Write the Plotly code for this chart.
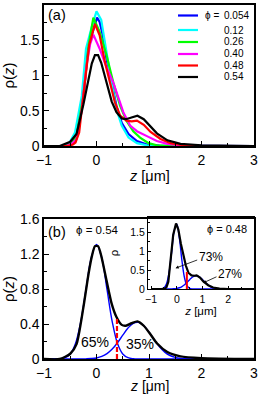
import plotly.graph_objects as go

# ---------------- data ----------------
phi_labels = ["0.054", "0.12", "0.26", "0.40", "0.48", "0.54"]
colors = ["#0000ff", "#00ffff", "#00ff00", "#ff00ff", "#ff0000", "#000000"]

blue_z = [-1, -0.6, -0.5, -0.38, -0.25, -0.17, -0.08, 0.01, 0.06, 0.12, 0.19, 0.29, 0.38, 0.48, 0.61, 0.77, 0.96, 1.2, 3]
blue_r = [0, 0.0, 0.03, 0.19, 0.67, 1.33, 1.6, 1.82, 1.76, 1.57, 1.24, 0.86, 0.57, 0.33, 0.17, 0.07, 0.02, 0.005, 0]

cyan_z = [-1, -0.62, -0.52, -0.41, -0.28, -0.2, -0.09, 0.0, 0.09, 0.13, 0.19, 0.29, 0.38, 0.48, 0.61, 0.77, 0.96, 1.2, 3]
cyan_r = [0, 0, 0.04, 0.19, 0.71, 1.38, 1.69, 1.91, 1.79, 1.6, 1.29, 0.88, 0.52, 0.29, 0.12, 0.04, 0.01, 0, 0]

green_z = [-1, -0.6, -0.48, -0.38, -0.25, -0.15, -0.06, 0.06, 0.19, 0.32, 0.45, 0.57, 0.7, 0.83, 0.99, 1.15, 1.4, 3]
green_r = [0, 0, 0.03, 0.14, 0.71, 1.43, 1.82, 1.62, 1.29, 0.9, 0.57, 0.36, 0.21, 0.12, 0.04, 0.01, 0, 0]

magenta_z = [-1, -0.58, -0.47, -0.38, -0.28, -0.19, -0.12, -0.06, 0.06, 0.19, 0.32, 0.41, 0.51, 0.64, 0.77, 0.96, 1.15, 1.35, 1.6, 2.0, 3]
magenta_r = [0, 0, 0.03, 0.10, 0.52, 1.14, 1.45, 1.58, 1.38, 1.12, 0.9, 0.71, 0.48, 0.29, 0.21, 0.14, 0.07, 0.03, 0.01, 0, 0]

red_z = [-1, -0.55, -0.45, -0.4, -0.33, -0.22, -0.14, -0.03, 0.06, 0.16, 0.25, 0.35, 0.45, 0.57, 0.67, 0.77, 0.9, 1.03, 1.22, 1.41, 1.66, 2.0, 3]
red_r = [0, 0, 0.02, 0.05, 0.19, 0.86, 1.43, 1.73, 1.57, 1.19, 0.9, 0.62, 0.43, 0.36, 0.35, 0.36, 0.30, 0.20, 0.10, 0.04, 0.01, 0, 0]

black_z = [-1, -0.7, -0.5, -0.38, -0.25, -0.15, -0.09, -0.03, 0.03, 0.09, 0.19, 0.29, 0.38, 0.48, 0.56, 0.67, 0.78, 0.9, 1.03, 1.15, 1.35, 1.6, 2.0, 3]
black_r = [0, 0.0, 0.06, 0.17, 0.59, 0.98, 1.17, 1.29, 1.29, 1.18, 0.9, 0.63, 0.48, 0.39, 0.38, 0.41, 0.43, 0.38, 0.28, 0.18, 0.08, 0.03, 0.01, 0]

# panel (b): two-peak decomposition of phi = 0.54
fit_z = [-1, -0.8, -0.7, -0.6, -0.5, -0.4, -0.3, -0.2, -0.1, 0.0, 0.1, 0.2, 0.3, 0.4, 0.5, 0.6, 0.7, 0.8, 0.9,
         1.0, 1.1, 1.2, 1.3, 1.4, 1.5, 1.6, 1.7, 1.8, 3]
fit54_left = [0, 0.0, 0.003, 0.015, 0.058, 0.177, 0.425, 0.795, 1.156, 1.31, 1.156, 0.795, 0.425, 0.177, 0.058, 0.015,
              0.003, 0.0, 0, 0, 0, 0, 0, 0, 0, 0, 0, 0, 0]
fit54_right = [0, 0, 0, 0, 0, 0, 0, 0.002, 0.005, 0.012, 0.029, 0.061, 0.113, 0.186, 0.272, 0.354, 0.408, 0.418, 0.380,
               0.307, 0.220, 0.140, 0.079, 0.040, 0.018, 0.007, 0.002, 0, 0]

# inset: two-peak decomposition of phi = 0.48
fit48_left = [0, 0, 0, 0.005, 0.032, 0.141, 0.443, 0.982, 1.539, 1.708, 1.341, 0.745, 0.292, 0.081, 0.016, 0.002,
              0, 0, 0, 0, 0, 0, 0, 0, 0, 0, 0, 0, 0]
fit48_right = [0, 0, 0, 0, 0, 0, 0, 0, 0.006, 0.015, 0.033, 0.065, 0.114, 0.177, 0.247, 0.309, 0.345, 0.345, 0.309,
               0.247, 0.177, 0.114, 0.065, 0.033, 0.015, 0.006, 0.002, 0, 0]

split_z = 0.39
split_top_54 = 0.46
split_top_48 = 0.45
share_54 = ["65%", "35%"]
share_48 = ["73%", "27%"]

FONT = "Liberation Sans"

fig = go.Figure()

# ---------------- panel (a) ----------------
series = [(blue_z, blue_r), (cyan_z, cyan_r), (green_z, green_r), (magenta_z, magenta_r), (red_z, red_r), (black_z, black_r)]
for (zz, rr), c, lab in zip(series, colors, phi_labels):
    fig.add_trace(go.Scatter(x=zz, y=rr, mode="lines", line=dict(color=c, width=2.2),
                             name="ϕ = " + lab, showlegend=False, xaxis="x", yaxis="y"))

# ---------------- panel (b) ----------------
fig.add_trace(go.Scatter(x=fit_z, y=fit54_left, mode="lines", line=dict(color="#0000ff", width=1.4, shape="spline"),
                         showlegend=False, xaxis="x2", yaxis="y2"))
fig.add_trace(go.Scatter(x=fit_z, y=fit54_right, mode="lines", line=dict(color="#0000ff", width=1.4, shape="spline"),
                         showlegend=False, xaxis="x2", yaxis="y2"))
fig.add_trace(go.Scatter(x=black_z, y=black_r, mode="lines", line=dict(color="#000000", width=2.4, shape="spline", smoothing=0.6),
                         showlegend=False, xaxis="x2", yaxis="y2"))
fig.add_trace(go.Scatter(x=[split_z, split_z], y=[0, split_top_54], mode="lines",
                         line=dict(color="#ff0000", width=2.2, dash="5px,2px"),
                         showlegend=False, xaxis="x2", yaxis="y2"))

# ---------------- inset ----------------
fig.add_trace(go.Scatter(x=fit_z, y=fit48_left, mode="lines", line=dict(color="#0000ff", width=1.4, shape="spline"),
                         showlegend=False, xaxis="x3", yaxis="y3"))
fig.add_trace(go.Scatter(x=fit_z, y=fit48_right, mode="lines", line=dict(color="#0000ff", width=1.4, shape="spline"),
                         showlegend=False, xaxis="x3", yaxis="y3"))
fig.add_trace(go.Scatter(x=red_z, y=red_r, mode="lines", line=dict(color="#000000", width=2.2),
                         showlegend=False, xaxis="x3", yaxis="y3"))
fig.add_trace(go.Scatter(x=[split_z, split_z], y=[0, split_top_48], mode="lines",
                         line=dict(color="#ff0000", width=2.0),
                         showlegend=False, xaxis="x3", yaxis="y3"))

W, H = 259, 394
def px(x):
    return x / W
def py(y):
    return 1 - y / H

tickfont = dict(family=FONT, size=14, color="black")
common = dict(showline=True, linecolor="black", linewidth=1.5, mirror=True, ticks="inside",
              ticklen=5, tickwidth=1.2, tickcolor="black", showgrid=False, zeroline=False,
              tickfont=tickfont, automargin=False)

fig.update_layout(
    width=W, height=H, margin=dict(l=0, r=0, t=0, b=0, autoexpand=False),
    paper_bgcolor="white", plot_bgcolor="rgba(0,0,0,0)",
    font=dict(family=FONT, color="black"),
    xaxis=dict(domain=[px(44), px(254)], range=[-1, 3], dtick=1, anchor="y",
               minor=dict(dtick=0.5, ticks="inside", ticklen=3, tickcolor="black"), **common),
    yaxis=dict(domain=[py(146), py(5)], range=[0, 2], dtick=0.5, anchor="x",
               minor=dict(dtick=0.25, ticks="inside", ticklen=3, tickcolor="black"),
               title=dict(text="ρ(<i>z</i>)", font=dict(family=FONT, size=15), standoff=4), **common),
    xaxis2=dict(domain=[px(44), px(254)], range=[-1, 3], dtick=1, anchor="y2",
                minor=dict(dtick=0.5, ticks="inside", ticklen=3, tickcolor="black"), **common),
    yaxis2=dict(domain=[py(359), py(219)], range=[0, 1.6], dtick=0.4, anchor="x2",
                minor=dict(dtick=0.2, ticks="inside", ticklen=3, tickcolor="black"),
                title=dict(text="ρ(<i>z</i>)", font=dict(family=FONT, size=15), standoff=4), **common),
)
inset_common = dict(common)
inset_common.update(tickfont=dict(family=FONT, size=10.5, color="black"), ticklen=3, linewidth=1.3)
fig.update_layout(
    xaxis3=dict(domain=[px(148), px(254)], range=[-1.12, 3], tickvals=[-1, 0, 1, 2], anchor="y3",
                minor=dict(dtick=0.5, ticks="inside", ticklen=2, tickcolor="black"),
                title=dict(text="<i>z</i> [μm]", font=dict(family=FONT, size=11.5), standoff=2), **inset_common),
    yaxis3=dict(domain=[py(289), py(217)], range=[0, 1.9], tickvals=[0, 0.5, 1, 1.5], anchor="x3",
                minor=dict(dtick=0.25, ticks="inside", ticklen=2, tickcolor="black"),
                title=dict(text="ρ", font=dict(family=FONT, size=11.5), standoff=9), **inset_common),
)

# inset white background
fig.add_shape(type="rect", xref="paper", yref="paper", x0=px(148), x1=px(254), y0=py(289), y1=py(217),
              fillcolor="white", line=dict(width=0), layer="below")

ann = []
def text(x, y, s, size, color="black", xanchor="center", ref=("paper", "paper"), yanchor="middle"):
    ann.append(dict(x=x, y=y, xref=ref[0], yref=ref[1], text=s, showarrow=False,
                    font=dict(family=FONT, size=size, color=color), xanchor=xanchor, yanchor=yanchor))

# x-axis titles of the two main panels
text(px(149), py(166), "<i>z</i> [μm]", 14.5, yanchor="top")
text(px(149), py(376), "<i>z</i> [μm]", 14, yanchor="top")

# panel labels
text(px(57), py(15), "(a)", 14.5)
text(px(57), py(232), "(b)", 14.5)

# manual legend for panel (a)
rows = [15.5, 30, 42, 54, 65.5, 77]
for i, (lab, c, yy) in enumerate(zip(phi_labels, colors, rows)):
    fig.add_shape(type="line", xref="paper", yref="paper", x0=px(178), x1=px(198), y0=py(yy), y1=py(yy),
                  line=dict(color=c, width=2.2))
    if i == 0:
        text(px(221), py(yy), "ϕ =", 10, xanchor="right")
    text(px(222), py(yy), lab, 10, xanchor="left")

# panel (b) texts
text(px(97), py(230), "ϕ = 0.54", 11.5)
text(-0.02, 0.2, share_54[0], 14, ref=("x2", "y2"))
text(0.82, 0.17, share_54[1], 14, ref=("x2", "y2"))
text(split_z, -0.09, "0.39", 10.5, color="#ff2020", ref=("x2", "y2"))

# inset texts
text(px(227), py(229), "ϕ = 0.48", 11)
text(split_z + 0.08, -0.14, "0.39", 8.5, color="#ff2020", ref=("x3", "y3"))
ann.append(dict(x=-0.05, y=0.55, xref="x3", yref="y3", ax=0.85, ay=0.78, axref="x3", ayref="y3",
                showarrow=True, arrowhead=2, arrowsize=0.8, arrowwidth=0.8, arrowcolor="black",
                text="", standoff=0))
ann.append(dict(x=1.02, y=0.16, xref="x3", yref="y3", ax=1.6, ay=0.34, axref="x3", ayref="y3",
                showarrow=True, arrowhead=2, arrowsize=0.8, arrowwidth=0.8, arrowcolor="black",
                text="", standoff=0))
text(1.33, 0.85, share_48[0], 12, ref=("x3", "y3"))
text(2.08, 0.39, share_48[1], 12, ref=("x3", "y3"))

fig.update_layout(annotations=ann)
# remove the browser's default 8px page margin so the figure fills the window exactly
fig.write_html("out.html", config={"displayModeBar": False},
               post_script="document.body.style.margin='0px';")
